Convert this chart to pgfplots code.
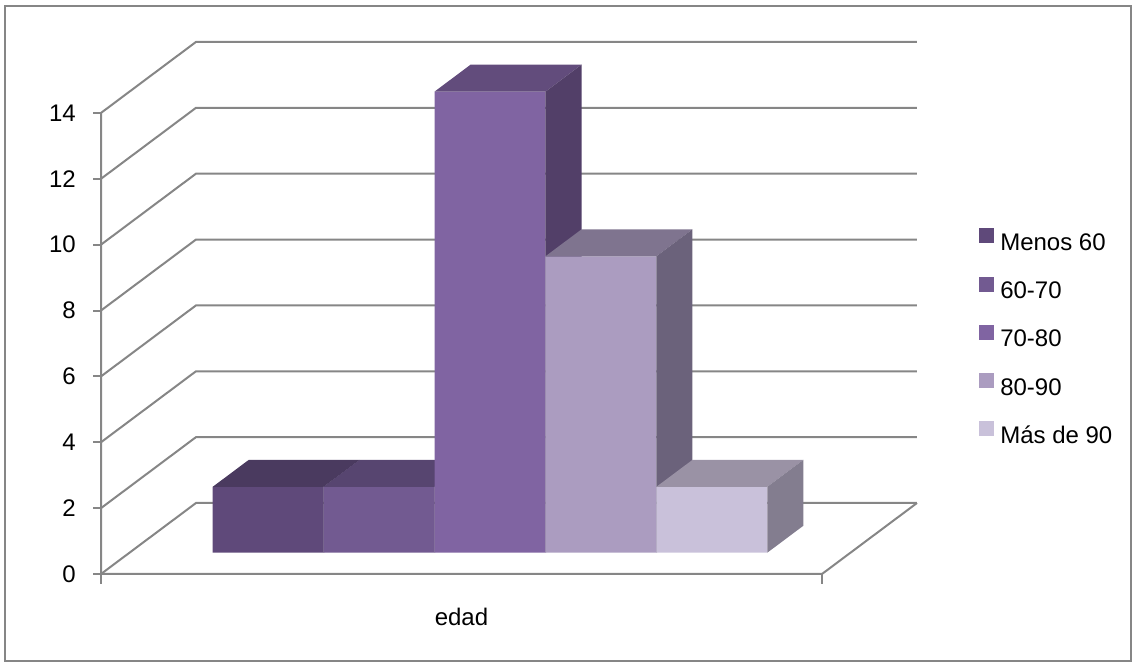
\documentclass[border=0pt]{standalone}
\usepackage{fontspec}
\setmainfont{Liberation Sans}
\usepackage{pgfplots}
\pgfplotsset{compat=1.18}

\definecolor{gridgray}{HTML}{868686}
% front / top / side shades for each age group
\definecolor{fA}{HTML}{5F497A}\definecolor{tA}{HTML}{4A3A5F}\definecolor{sA}{HTML}{463759}
\definecolor{fB}{HTML}{725A91}\definecolor{tB}{HTML}{574570}\definecolor{sB}{HTML}{4F3E66}
\definecolor{fC}{HTML}{8064A2}\definecolor{tC}{HTML}{624C7C}\definecolor{sC}{HTML}{523F68}
\definecolor{fD}{HTML}{AB9CC0}\definecolor{tD}{HTML}{7F748F}\definecolor{sD}{HTML}{6B627B}
\definecolor{fE}{HTML}{C9C1DA}\definecolor{tE}{HTML}{9A92A5}\definecolor{sE}{HTML}{837D8F}

\newcommand{\chartfont}{\fontsize{18}{21.6}\selectfont}

% a 3-D column: #1,#2 = left/right x, #3 = value, #4/#5/#6 = front/top/side colours
\newcommand{\cuboid}[6]{%
  \addplot3[fill=#4, draw=none, forget plot] coordinates
    {(#1,0.3,0) (#2,0.3,0) (#2,0.3,#3) (#1,0.3,#3) (#1,0.3,0)};
  \addplot3[fill=#5, draw=none, forget plot] coordinates
    {(#1,0.3,#3) (#2,0.3,#3) (#2,0.68,#3) (#1,0.68,#3) (#1,0.3,#3)};
  \addplot3[fill=#6, draw=none, forget plot] coordinates
    {(#2,0.3,0) (#2,0.68,0) (#2,0.68,#3) (#2,0.3,#3) (#2,0.3,0)};
}

\begin{document}
\begin{tikzpicture}
\path[use as bounding box] (0pt,0pt) rectangle (852.75pt,499.5pt);
\draw[gridgray, line width=1.5pt] (3.75pt,3.75pt) rectangle (848.25pt,495pt);

\begin{axis}[
  x={(83.19pt,0pt)}, y={(71.25pt,53.25pt)}, z={(0pt,24.70pt)},
  xmin=0, xmax=6.5, ymin=0, ymax=1, zmin=0, zmax=14,
  hide axis, clip=false,
  anchor=origin, at={(75.75pt,69pt)},
  legend cell align=left,
  legend image code/.code={\fill[#1, draw=none] (0pt,0.8pt) rectangle (11.25pt,12.05pt);},
  legend style={at={(1.076,0.650)}, anchor=north west, draw=none, fill=none,
    inner sep=0pt, row sep=15.6pt, column sep=4.5pt, font=\chartfont,
    nodes={inner sep=0pt, text height=13pt, text depth=4pt}},
]
% walls: grid lines on the side wall and back wall
\pgfplotsinvokeforeach{0,2,4,6,8,10,12,14}{
  \draw[gridgray, line width=1.5pt] (axis cs:0,0,#1) -- (axis cs:0,1,#1) -- (axis cs:6.5,1,#1);
  \draw[gridgray, line width=1.5pt] (axis cs:0,0,#1) -- ++(-6pt,0pt);
  \node[anchor=east, inner sep=0pt, font=\chartfont] at ([xshift=-18.75pt]axis cs:0,0,#1) {#1};
}
% floor outline and value axis
\draw[gridgray, line width=1.5pt] (axis cs:0,0,14) -- (axis cs:0,0,0) -- (axis cs:6.5,0,0) -- (axis cs:6.5,1,0);
\draw[gridgray, line width=1.5pt] (axis cs:0,0,0) -- ++(0pt,-7.5pt);
\draw[gridgray, line width=1.5pt] (axis cs:6.5,0,0) -- ++(0pt,-7.5pt);
\node[font=\chartfont] at ([yshift=-32.25pt]axis cs:3.25,0,0) {edad};

% columns: Menos 60, 60-70, 70-80, 80-90, Más de 90
\cuboid{0.75}{1.75}{2}{fA}{tA}{sA}
\cuboid{1.75}{2.75}{2}{fB}{tB}{sB}
\cuboid{2.75}{3.75}{14}{fC}{tC}{sC}
\cuboid{3.75}{4.75}{9}{fD}{tD}{sD}
\cuboid{4.75}{5.75}{2}{fE}{tE}{sE}

\addlegendimage{fill=fA, draw=none}\addlegendentry{Menos 60}
\addlegendimage{fill=fB, draw=none}\addlegendentry{60-70}
\addlegendimage{fill=fC, draw=none}\addlegendentry{70-80}
\addlegendimage{fill=fD, draw=none}\addlegendentry{80-90}
\addlegendimage{fill=fE, draw=none}\addlegendentry{Más de 90}
\end{axis}
\end{tikzpicture}
\end{document}
